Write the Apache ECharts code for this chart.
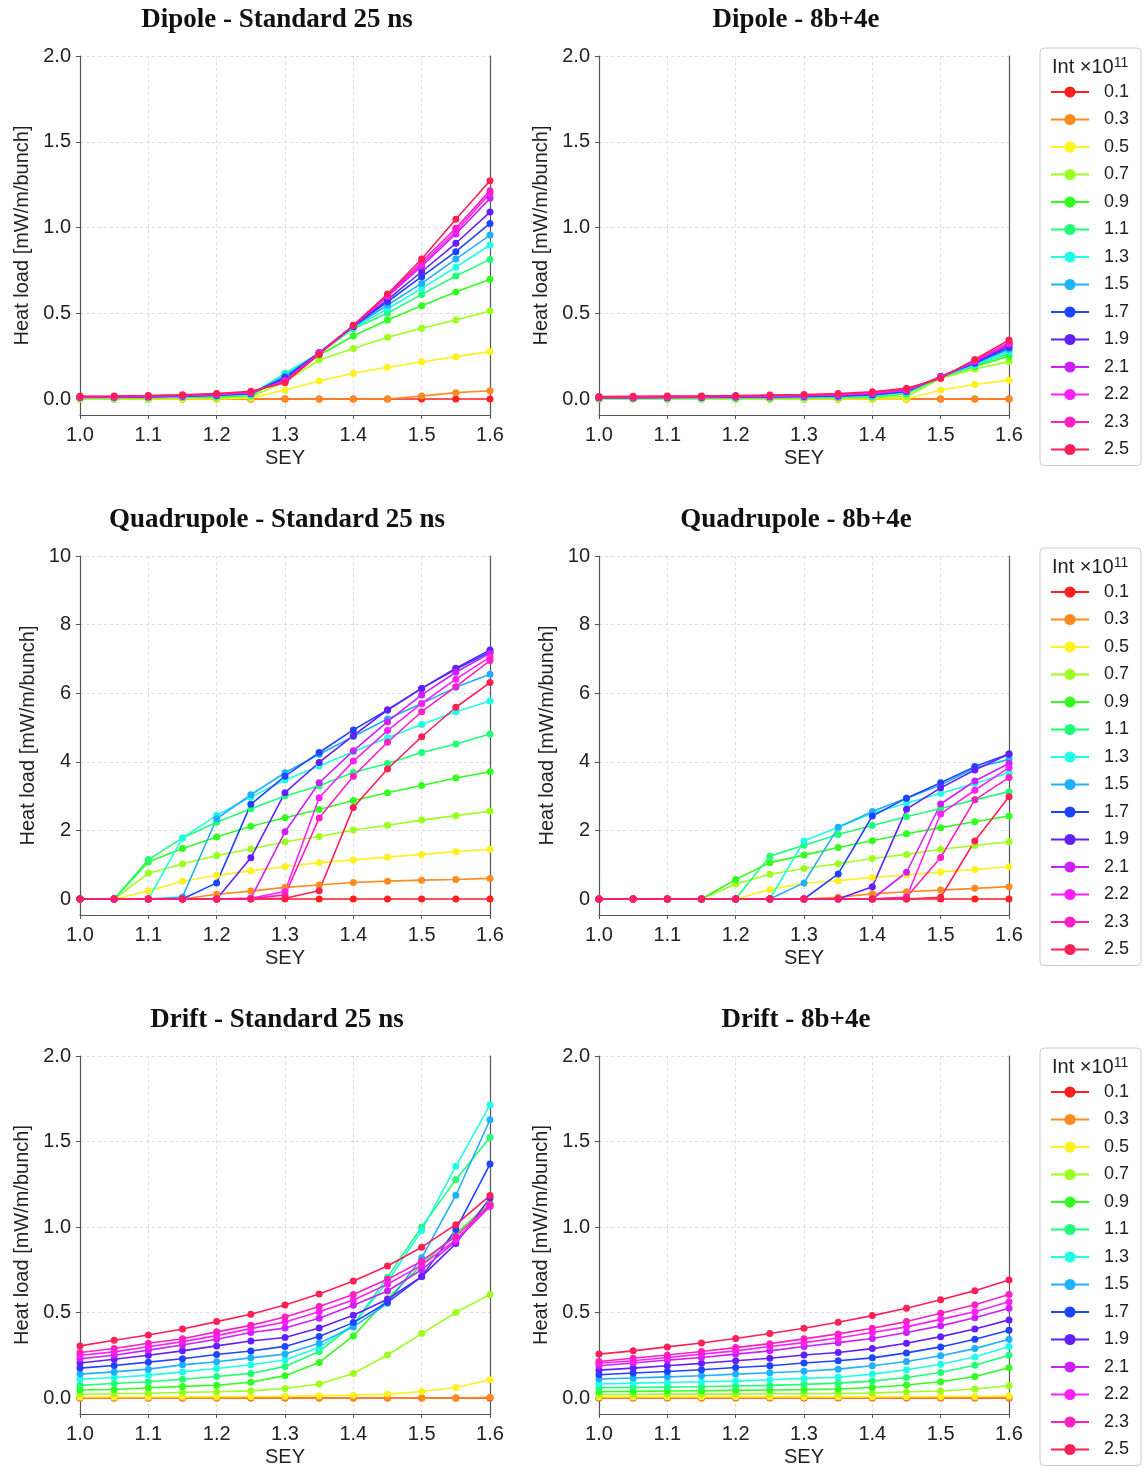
<!DOCTYPE html>
<html>
<head>
<meta charset="utf-8">
<script src="https://cdn.jsdelivr.net/npm/echarts@6/dist/echarts.min.js"></script>
<style>
  html, body { margin: 0; padding: 0; background: #fff; }
  #chart { width: 1145px; height: 1468px; }
</style>
</head>
<body>
<div id="chart"></div>
<script>
const sey = [1.0, 1.05, 1.1, 1.15, 1.2, 1.25, 1.3, 1.35, 1.4, 1.45, 1.5, 1.55, 1.6];
const intensities = ["0.1", "0.3", "0.5", "0.7", "0.9", "1.1", "1.3", "1.5", "1.7", "1.9", "2.1", "2.2", "2.3", "2.5"];
const palette = ["#ff1f1f", "#ff8a1f", "#fff01f", "#9dff1f", "#32ff1f", "#1fff78", "#1fffe3",
  "#1fb0ff", "#1f44ff", "#651fff", "#d01fff", "#ff1ff8", "#ff1fc2", "#ff1f57"];

// one row per intensity, one value per SEY point
const dipoleStd = [
  [0, 0, 0, 0, 0, 0, 0, 0, 0, 0, 0, 0, 0],
  [0, 0, 0, 0, 0, 0, 0, 0, 0, 0, 0.017, 0.037, 0.048],
  [0, 0, 0, 0, 0, 0.005, 0.052, 0.105, 0.15, 0.185, 0.216, 0.247, 0.276],
  [0.005, 0.005, 0.006, 0.007, 0.008, 0.012, 0.1, 0.227, 0.295, 0.36, 0.412, 0.461, 0.513],
  [0.006, 0.007, 0.008, 0.01, 0.012, 0.02, 0.13, 0.255, 0.367, 0.461, 0.544, 0.624, 0.698],
  [0.007, 0.008, 0.01, 0.012, 0.016, 0.025, 0.15, 0.265, 0.41, 0.5, 0.61, 0.717, 0.814],
  [0.008, 0.009, 0.011, 0.014, 0.018, 0.028, 0.145, 0.267, 0.415, 0.525, 0.645, 0.768, 0.898],
  [0.009, 0.01, 0.012, 0.015, 0.02, 0.03, 0.135, 0.268, 0.42, 0.548, 0.674, 0.816, 0.956],
  [0.01, 0.011, 0.013, 0.017, 0.022, 0.032, 0.125, 0.27, 0.423, 0.567, 0.713, 0.859, 1.024],
  [0.011, 0.012, 0.014, 0.018, 0.024, 0.034, 0.115, 0.27, 0.425, 0.58, 0.742, 0.908, 1.09],
  [0.012, 0.013, 0.016, 0.02, 0.026, 0.037, 0.108, 0.268, 0.427, 0.597, 0.775, 0.962, 1.17],
  [0.013, 0.014, 0.017, 0.021, 0.027, 0.039, 0.104, 0.266, 0.428, 0.602, 0.787, 0.976, 1.2],
  [0.014, 0.015, 0.018, 0.022, 0.029, 0.041, 0.1, 0.264, 0.429, 0.607, 0.8, 0.995, 1.215],
  [0.016, 0.017, 0.02, 0.025, 0.032, 0.045, 0.095, 0.26, 0.43, 0.612, 0.816, 1.048, 1.273]
];

const dipole8b4e = [
  [0, 0, 0, 0, 0, 0, 0, 0, 0, 0, 0, 0, 0],
  [0, 0, 0, 0, 0, 0, 0, 0, 0, 0, 0, 0, 0],
  [0, 0, 0, 0, 0, 0, 0, 0, 0, 0, 0.052, 0.085, 0.11],
  [0.003, 0.003, 0.003, 0.004, 0.004, 0.005, 0.005, 0.006, 0.008, 0.015, 0.12, 0.175, 0.218],
  [0.004, 0.004, 0.005, 0.005, 0.006, 0.006, 0.007, 0.009, 0.012, 0.03, 0.125, 0.19, 0.25],
  [0.005, 0.005, 0.006, 0.006, 0.007, 0.008, 0.009, 0.011, 0.015, 0.035, 0.127, 0.195, 0.265],
  [0.006, 0.006, 0.007, 0.007, 0.008, 0.009, 0.011, 0.013, 0.018, 0.04, 0.128, 0.2, 0.28],
  [0.007, 0.007, 0.008, 0.009, 0.01, 0.011, 0.013, 0.016, 0.022, 0.042, 0.13, 0.205, 0.29],
  [0.008, 0.008, 0.009, 0.01, 0.011, 0.013, 0.015, 0.018, 0.025, 0.044, 0.132, 0.21, 0.3],
  [0.009, 0.009, 0.01, 0.011, 0.013, 0.015, 0.017, 0.021, 0.028, 0.047, 0.13, 0.215, 0.31],
  [0.01, 0.011, 0.012, 0.013, 0.015, 0.017, 0.02, 0.024, 0.032, 0.05, 0.128, 0.22, 0.32],
  [0.011, 0.012, 0.013, 0.014, 0.016, 0.018, 0.021, 0.026, 0.034, 0.052, 0.127, 0.222, 0.325],
  [0.012, 0.013, 0.014, 0.015, 0.017, 0.02, 0.023, 0.028, 0.037, 0.055, 0.125, 0.225, 0.33],
  [0.015, 0.016, 0.017, 0.018, 0.02, 0.023, 0.026, 0.032, 0.042, 0.062, 0.12, 0.231, 0.344]
];

const quadStd = [
  [0, 0, 0, 0, 0, 0, 0, 0, 0, 0, 0, 0, 0],
  [0, 0, 0, 0, 0.14, 0.23, 0.34, 0.41, 0.48, 0.52, 0.55, 0.57, 0.6],
  [0, 0, 0.23, 0.52, 0.69, 0.82, 0.94, 1.06, 1.14, 1.22, 1.3, 1.38, 1.45],
  [0, 0, 0.75, 1.02, 1.27, 1.46, 1.67, 1.82, 2.01, 2.15, 2.3, 2.43, 2.56],
  [0, 0, 1.08, 1.47, 1.81, 2.12, 2.37, 2.61, 2.87, 3.1, 3.31, 3.53, 3.71],
  [0, 0, 1.15, 1.78, 2.24, 2.63, 3.0, 3.3, 3.69, 3.95, 4.27, 4.52, 4.81],
  [0, 0, 0, 1.78, 2.44, 2.97, 3.47, 3.88, 4.29, 4.7, 5.09, 5.46, 5.77],
  [0, 0, 0, 0.06, 2.34, 3.04, 3.68, 4.22, 4.74, 5.25, 5.7, 6.17, 6.55],
  [0, 0, 0, 0, 0.47, 2.76, 3.58, 4.27, 4.93, 5.51, 6.14, 6.7, 7.2],
  [0, 0, 0, 0, 0, 1.2, 3.1, 3.98, 4.76, 5.51, 6.14, 6.73, 7.26],
  [0, 0, 0, 0, 0, 0.02, 1.96, 3.39, 4.32, 5.17, 5.95, 6.61, 7.16],
  [0, 0, 0, 0, 0, 0.02, 0.22, 2.95, 4.02, 4.91, 5.7, 6.41, 7.05],
  [0, 0, 0, 0, 0, 0.01, 0.12, 2.36, 3.58, 4.57, 5.46, 6.19, 6.95],
  [0, 0, 0, 0, 0, 0, 0.02, 0.24, 2.67, 3.79, 4.73, 5.59, 6.31]
];

const quad8b4e = [
  [0, 0, 0, 0, 0, 0, 0, 0, 0, 0, 0, 0, 0],
  [0, 0, 0, 0, 0, 0, 0, 0.05, 0.15, 0.21, 0.26, 0.31, 0.36],
  [0, 0, 0, 0, 0, 0.28, 0.46, 0.53, 0.63, 0.7, 0.79, 0.86, 0.94],
  [0, 0, 0, 0, 0.44, 0.72, 0.89, 1.03, 1.18, 1.3, 1.45, 1.56, 1.67],
  [0, 0, 0, 0, 0.57, 1.06, 1.28, 1.5, 1.7, 1.9, 2.08, 2.25, 2.42],
  [0, 0, 0, 0, 0, 1.25, 1.57, 1.88, 2.14, 2.4, 2.64, 2.89, 3.13],
  [0, 0, 0, 0, 0, 0, 1.69, 2.09, 2.5, 2.79, 3.08, 3.37, 3.68],
  [0, 0, 0, 0, 0, 0, 0.47, 2.09, 2.55, 2.94, 3.32, 3.82, 4.07],
  [0, 0, 0, 0, 0, 0, 0, 0.73, 2.42, 2.94, 3.39, 3.86, 4.23],
  [0, 0, 0, 0, 0, 0, 0, 0, 0.36, 2.62, 3.24, 3.76, 4.23],
  [0, 0, 0, 0, 0, 0, 0, 0, 0, 0.78, 2.77, 3.44, 3.95],
  [0, 0, 0, 0, 0, 0, 0, 0, 0, 0.05, 2.48, 3.17, 3.83],
  [0, 0, 0, 0, 0, 0, 0, 0, 0, 0.05, 1.21, 2.89, 3.54],
  [0, 0, 0, 0, 0, 0, 0, 0, 0, 0, 0.05, 1.69, 2.98]
];

const driftStd = [
  [0, 0, 0, 0, 0, 0, 0, 0, 0, 0, 0, 0, 0],
  [0, 0, 0, 0, 0, 0, 0, 0, 0, 0, 0, 0, 0.004],
  [0.006, 0.006, 0.006, 0.007, 0.008, 0.009, 0.01, 0.014, 0.017, 0.023, 0.038, 0.062, 0.107],
  [0.022, 0.025, 0.028, 0.033, 0.037, 0.042, 0.056, 0.082, 0.144, 0.252, 0.377, 0.5, 0.606],
  [0.047, 0.05, 0.06, 0.068, 0.075, 0.092, 0.131, 0.208, 0.363, 0.58, 0.78, 0.96, 1.14],
  [0.075, 0.085, 0.095, 0.11, 0.126, 0.144, 0.185, 0.272, 0.43, 0.707, 1.0, 1.277, 1.524],
  [0.11, 0.12, 0.134, 0.153, 0.173, 0.195, 0.222, 0.296, 0.43, 0.68, 0.98, 1.355, 1.714],
  [0.14, 0.153, 0.169, 0.194, 0.212, 0.235, 0.257, 0.321, 0.416, 0.554, 0.82, 1.186, 1.627],
  [0.175, 0.19, 0.21, 0.23, 0.255, 0.275, 0.302, 0.36, 0.441, 0.56, 0.71, 0.985, 1.368],
  [0.205, 0.227, 0.25, 0.276, 0.305, 0.334, 0.354, 0.409, 0.484, 0.578, 0.71, 0.903, 1.17],
  [0.23, 0.25, 0.28, 0.31, 0.344, 0.383, 0.409, 0.467, 0.542, 0.626, 0.75, 0.917, 1.12],
  [0.25, 0.27, 0.3, 0.33, 0.365, 0.406, 0.445, 0.504, 0.573, 0.665, 0.777, 0.925, 1.125],
  [0.266, 0.29, 0.32, 0.347, 0.387, 0.425, 0.474, 0.535, 0.606, 0.694, 0.8, 0.946, 1.13],
  [0.305, 0.338, 0.369, 0.404, 0.447, 0.49, 0.544, 0.608, 0.684, 0.772, 0.882, 1.014, 1.184]
];

const drift8b4e = [
  [0, 0, 0, 0, 0, 0, 0, 0, 0, 0, 0, 0, 0],
  [0.002, 0.002, 0.002, 0.002, 0.002, 0.002, 0.002, 0.002, 0.002, 0.002, 0.002, 0.002, 0.002],
  [0.007, 0.007, 0.007, 0.007, 0.007, 0.007, 0.007, 0.007, 0.007, 0.008, 0.009, 0.009, 0.012],
  [0.021, 0.021, 0.023, 0.023, 0.023, 0.025, 0.025, 0.027, 0.029, 0.037, 0.041, 0.053, 0.072],
  [0.037, 0.039, 0.041, 0.043, 0.045, 0.047, 0.049, 0.053, 0.062, 0.076, 0.095, 0.126, 0.177],
  [0.06, 0.062, 0.064, 0.066, 0.07, 0.074, 0.08, 0.087, 0.099, 0.12, 0.149, 0.192, 0.25],
  [0.082, 0.087, 0.091, 0.095, 0.099, 0.107, 0.115, 0.122, 0.14, 0.165, 0.198, 0.24, 0.301],
  [0.111, 0.117, 0.124, 0.13, 0.14, 0.148, 0.157, 0.169, 0.189, 0.214, 0.247, 0.289, 0.344],
  [0.136, 0.146, 0.155, 0.165, 0.179, 0.189, 0.205, 0.218, 0.235, 0.264, 0.299, 0.344, 0.396],
  [0.163, 0.175, 0.189, 0.203, 0.218, 0.233, 0.252, 0.266, 0.289, 0.32, 0.359, 0.404, 0.457],
  [0.189, 0.205, 0.222, 0.237, 0.257, 0.276, 0.301, 0.324, 0.348, 0.383, 0.422, 0.47, 0.525],
  [0.203, 0.218, 0.237, 0.257, 0.276, 0.301, 0.324, 0.351, 0.383, 0.416, 0.46, 0.505, 0.563],
  [0.214, 0.233, 0.252, 0.272, 0.295, 0.318, 0.346, 0.375, 0.408, 0.447, 0.496, 0.546, 0.606],
  [0.257, 0.276, 0.299, 0.322, 0.348, 0.377, 0.408, 0.443, 0.482, 0.525, 0.575, 0.628, 0.69]
];

const dipoleTicks = [0, 0.5, 1.0, 1.5, 2.0];
const quadTicks = [0, 2, 4, 6, 8, 10];

const panels = [
  { title: "Dipole - Standard 25 ns", data: dipoleStd, ticks: dipoleTicks, left: 80, top: 56 },
  { title: "Dipole - 8b+4e", data: dipole8b4e, ticks: dipoleTicks, left: 599, top: 56 },
  { title: "Quadrupole - Standard 25 ns", data: quadStd, ticks: quadTicks, left: 80, top: 556 },
  { title: "Quadrupole - 8b+4e", data: quad8b4e, ticks: quadTicks, left: 599, top: 556 },
  { title: "Drift - Standard 25 ns", data: driftStd, ticks: dipoleTicks, left: 80, top: 1056 },
  { title: "Drift - 8b+4e", data: drift8b4e, ticks: dipoleTicks, left: 599, top: 1056 }
];

const W = 410, H = 359, DROP = 16;   // x axis sits 16px below the zero line
const sans = "Liberation Sans, Arial, sans-serif";
const axisCol = "#555";

const chart = echarts.init(document.getElementById("chart"), null, { renderer: "canvas" });

const grid = [], xAxis = [], yAxis = [], series = [], title = [], legend = [];

panels.forEach((p, k) => {
  const yMax = p.ticks[p.ticks.length - 1];
  const yMin = -yMax * DROP / (H - DROP);
  const digits = yMax === 10 ? 0 : 1;
  grid.push({ left: p.left, top: p.top, width: W, height: H });
  title.push({
    text: p.title, left: p.left + W / 2 - 13, top: p.top - 54, textAlign: "center",
    textStyle: { fontFamily: "Liberation Serif, serif", fontWeight: "bold", fontSize: 27, color: "#111" }
  });
  xAxis.push({
    gridIndex: k, type: "value", min: 1.0, max: 1.6, interval: 0.1,
    name: "SEY", nameLocation: "middle", nameGap: 33,
    nameTextStyle: { fontFamily: sans, fontSize: 20, color: "#222" },
    axisLine: { onZero: false, lineStyle: { color: axisCol, width: 1.2 } },
    axisTick: { show: true, length: 4, lineStyle: { color: axisCol } },
    axisLabel: { fontFamily: sans, fontSize: 20, color: "#222", margin: 10, formatter: v => v.toFixed(1) },
    splitLine: { show: true, lineStyle: { color: "#dcdcdc", type: [3, 3], width: 1 } }
  });
  yAxis.push({
    gridIndex: k, type: "value", min: yMin, max: yMax,
    name: "Heat load [mW/m/bunch]", nameLocation: "middle", nameGap: digits ? 48 : 42, nameRotate: 90,
    nameTextStyle: { fontFamily: sans, fontSize: 20, color: "#222" },
    axisLine: { show: true, lineStyle: { color: axisCol, width: 1.2 } },
    axisTick: { show: true, length: 4, customValues: p.ticks, lineStyle: { color: axisCol } },
    axisLabel: { fontFamily: sans, fontSize: 20, color: "#222", margin: 9, customValues: p.ticks,
      formatter: v => Number(v).toFixed(digits) },
    splitLine: { show: true, lineStyle: { color: "#dcdcdc", type: [3, 3], width: 1 } }
  });
  p.data.forEach((row, i) => {
    series.push({
      type: "line", name: intensities[i], xAxisIndex: k, yAxisIndex: k,
      data: row.map((v, j) => [sey[j], v]),
      symbol: "circle", symbolSize: 7, showSymbol: true,
      lineStyle: { width: 1.6, color: palette[i] },
      itemStyle: { color: palette[i] },
      emphasis: { disabled: true }
    });
  });
});

// right-hand spines
panels.forEach((p, k) => {
  yAxis.push({
    gridIndex: k, type: "value", position: "right", min: 0, max: 1,
    axisLine: { show: true, lineStyle: { color: axisCol, width: 1.2 } },
    axisTick: { show: false }, axisLabel: { show: false }, splitLine: { show: false }
  });
});

[48, 548, 1048].forEach(top => {
  legend.push({
    orient: "vertical", left: 1040, top: top, data: intensities,
    padding: [35, 12, 7, 10], itemWidth: 38, itemHeight: 14, itemGap: 9.5,
    borderColor: "#cccccc", borderWidth: 1, borderRadius: 4,
    textStyle: { fontFamily: sans, fontSize: 18, color: "#222", padding: [0, 0, 0, 10] },
    selectedMode: false
  });
  title.push({
    text: "Int ×10{sup|11}", left: 1047, top: top + 3,
    textStyle: {
      fontFamily: sans, fontSize: 20, fontWeight: "normal", color: "#222",
      rich: { sup: { fontFamily: sans, fontSize: 14, color: "#222", verticalAlign: "top", padding: [0, 0, 8, 0] } }
    }
  });
});

chart.setOption({
  animation: false,
  color: palette,
  title, grid, xAxis, yAxis, legend, series
});
</script>
</body>
</html>
